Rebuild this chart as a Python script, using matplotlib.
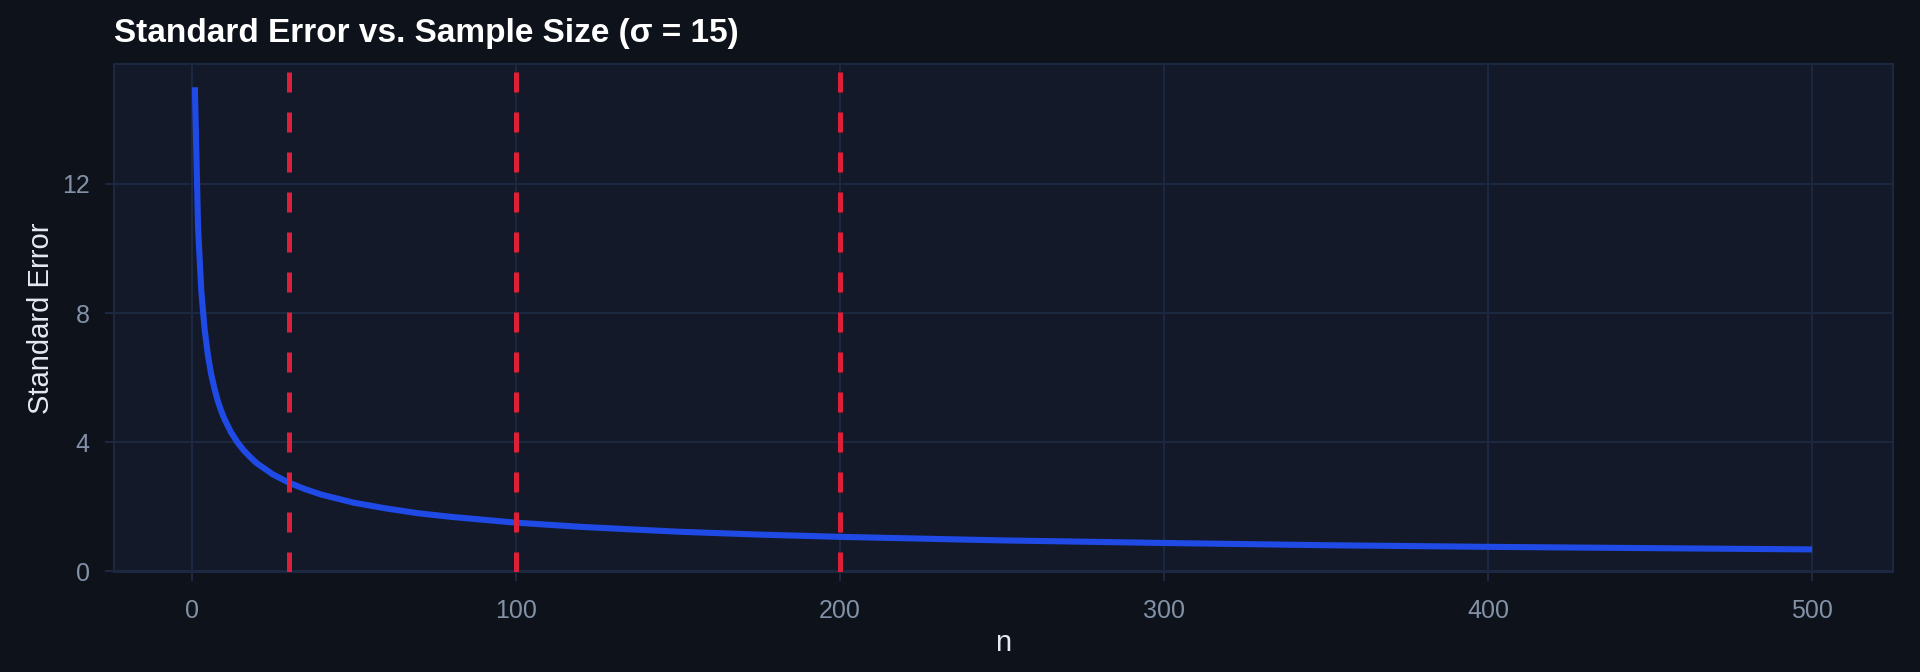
import matplotlib
matplotlib.use("Agg")
import matplotlib.pyplot as plt

# values
n_vals = [1, 2, 3, 4, 5, 6, 7, 8, 9, 10, 12, 14, 16, 18, 20, 25, 30, 35, 40, 50,
          60, 70, 80, 100, 120, 150, 175, 200, 250, 300, 350, 400, 450, 500]
se_vals = [15.0, 10.61, 8.66, 7.5, 6.71, 6.12, 5.67, 5.30, 5.0, 4.74, 4.33, 4.01,
           3.75, 3.54, 3.35, 3.0, 2.74, 2.54, 2.37, 2.12, 1.94, 1.79, 1.68, 1.5,
           1.37, 1.22, 1.13, 1.06, 0.95, 0.87, 0.80, 0.75, 0.71, 0.67]
ref_n = [30, 100, 200]
x_ticks = [0, 100, 200, 300, 400, 500]
y_ticks = [0, 4, 8, 12]

bg = '#0e121b'
panel = '#131928'
grid = '#1c2740'
tick_col = '#8391a7'

plt.rcParams['font.family'] = ['Liberation Sans', 'DejaVu Sans']

fig = plt.figure(figsize=(19.2, 6.72), dpi=100, facecolor=bg)
ax = fig.add_axes([114 / 1920, 1 - 572 / 672, (1893 - 114) / 1920, (572 - 64) / 672])
ax.set_facecolor(panel)

ax.plot(n_vals, se_vals, color='#1f4ae6', lw=4.4, solid_capstyle='butt', zorder=3)
for v in ref_n:
    ax.axvline(v, color='#dc2039', lw=3.6, dashes=(4, 4), zorder=4)

ax.set_xlim(-23.95, 524.95)
ax.set_ylim(-0.03, 15.72)
ax.set_xticks(x_ticks)
ax.set_yticks(y_ticks)
ax.grid(True, color=grid, lw=1.5)
ax.set_axisbelow(True)
for s in ax.spines.values():
    s.set_color(grid)
    s.set_linewidth(1.5)
ax.tick_params(colors=grid, labelcolor=tick_col, labelsize=18, length=6.5, width=1.5)
ax.tick_params(axis='x', pad=13)
ax.tick_params(axis='y', pad=11)

ax.set_xlabel('n', color='#e6e9ef', fontsize=21, labelpad=4)
ax.set_ylabel('Standard Error', color='#e6e9ef', fontsize=21, labelpad=5)

fig.text(114 / 1920, 1 - 42 / 672, 'Standard Error vs. Sample Size (σ = 15)',
         color='white', fontsize=24, fontweight='bold', ha='left', va='baseline')

fig.savefig('out.png', dpi=100, facecolor=bg)
